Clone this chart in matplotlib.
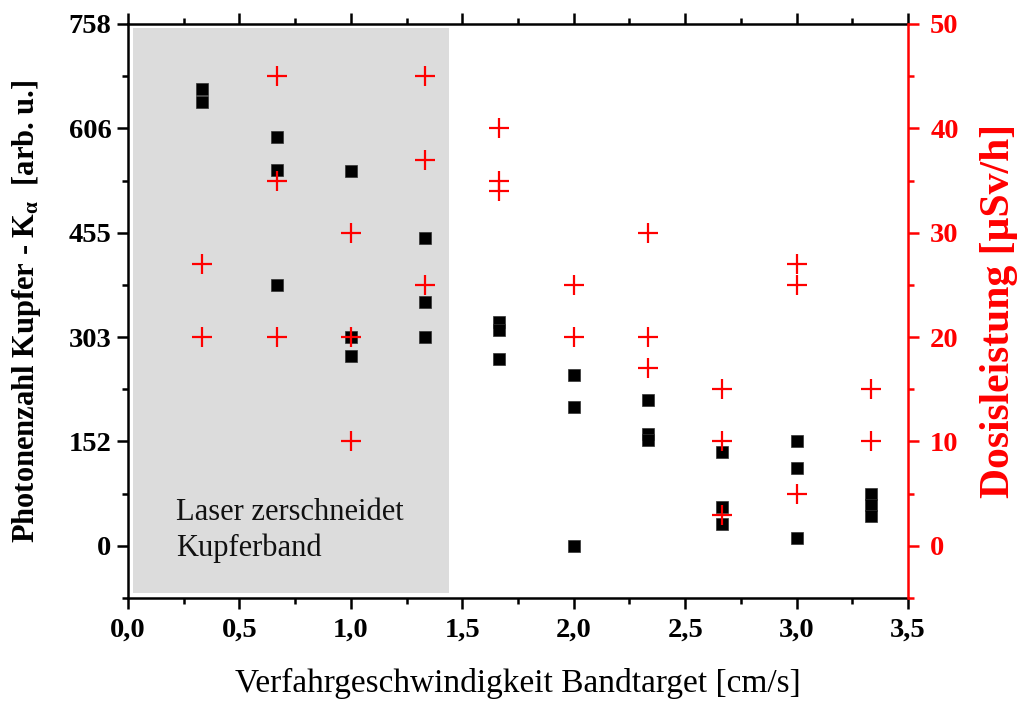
#!/usr/bin/env python3
"""Photonenzahl und Dosisleistung gegen Verfahrgeschwindigkeit"""
import matplotlib
matplotlib.use('Agg')
import matplotlib.pyplot as plt
from matplotlib.patches import Rectangle
from matplotlib.ticker import MultipleLocator, FuncFormatter

plt.rcParams['font.family'] = ['Liberation Serif', 'DejaVu Serif']
plt.rcParams['mathtext.fontset'] = 'custom'
plt.rcParams['mathtext.rm'] = 'Liberation Serif:bold'
plt.rcParams['mathtext.it'] = 'Liberation Serif:bold'
plt.rcParams['mathtext.bf'] = 'Liberation Serif:bold'

# Photonenzahl Cu-K_alpha (linke Achse)
photon_x = [1/3, 1/3,
            2/3, 2/3, 2/3,
            1.0, 1.0, 1.0,
            4/3, 4/3, 4/3,
            5/3, 5/3, 5/3,
            2.0, 2.0, 2.0,
            7/3, 7/3, 7/3,
            8/3, 8/3, 8/3,
            3.0, 3.0, 3.0,
            10/3, 10/3, 10/3]
photon_y = [663, 644,
            594, 546, 379,
            544, 304, 276,
            447, 354, 303,
            325, 313, 272,
            248, 202, 0,
            212, 163, 154,
            137, 57, 31,
            152, 113, 11,
            76, 60, 44]

# Dosisleistung in uSv/h (rechte Achse)
dose_x = [1/3, 1/3,
          2/3, 2/3, 2/3,
          1.0, 1.0, 1.0,
          4/3, 4/3, 4/3,
          5/3, 5/3, 5/3,
          2.0, 2.0,
          7/3, 7/3, 7/3,
          8/3, 8/3, 8/3,
          3.0, 3.0, 3.0,
          10/3, 10/3]
dose_y = [27, 20,
          45, 35, 20,
          30, 20, 10,
          45, 37, 25,
          40, 35, 34,
          25, 20,
          30, 20, 17,
          15, 10, 3,
          27, 25, 5,
          15, 10]

left_ticks = [0, 758 / 5, 2 * 758 / 5, 3 * 758 / 5, 4 * 758 / 5, 758]
left_labels = ['0', '152', '303', '455', '606', '758']

fig = plt.figure(figsize=(10.2, 7.01), dpi=100)
ax = fig.add_axes([0.1255, 0.1469, 0.7647, 0.8189])
ax2 = ax.twinx()

# grauer Bereich: Laser zerschneidet Kupferband
ax.add_patch(Rectangle((0.022, -68), 1.418, 820, facecolor='#dcdcdc',
                       edgecolor='none', zorder=0))
ax.text(0.215, 22, 'Laser zerschneidet\nKupferband', fontsize=22,
        ha='left', va='center', linespacing=1.3, color='#111111')

ax.plot(photon_x, photon_y, 's', color='black', markersize=8.5,
        markeredgecolor='#333333', markeredgewidth=0.5, zorder=3)
ax2.plot(dose_x, dose_y, '+', color='red', markersize=14,
         markeredgewidth=1.6, zorder=3)

ax.set_xlim(0, 3.5)
ax.set_ylim(-758 / 10, 758)
ax2.set_ylim(-5, 50)

ax.xaxis.set_major_locator(MultipleLocator(0.5))
ax.xaxis.set_minor_locator(MultipleLocator(0.25))
ax.xaxis.set_major_formatter(FuncFormatter(lambda v, p: f'{v:.1f}'.replace('.', ',')))
ax.set_yticks(left_ticks)
ax.set_yticklabels(left_labels)
ax.set_yticks([758 / 10 * k for k in range(-1, 11, 2)], minor=True)
ax2.yaxis.set_major_locator(MultipleLocator(10))
ax2.yaxis.set_minor_locator(MultipleLocator(5))

for sp in ax.spines.values():
    sp.set_linewidth(1.8)
ax.spines['right'].set_visible(False)
for name in ['left', 'top', 'bottom']:
    ax2.spines[name].set_visible(False)
ax2.spines['right'].set_color('red')
ax2.spines['right'].set_linewidth(1.8)

ax.tick_params(axis='both', which='major', direction='out', length=8,
               width=1.8, labelsize=20.5)
ax.tick_params(axis='y', which='major', pad=4)
ax.tick_params(axis='x', which='major', pad=6)
ax.tick_params(axis='both', which='minor', direction='out', length=4, width=1.8)
ax.tick_params(axis='x', which='both', top=True)
ax2.tick_params(axis='y', which='major', direction='out', length=8, width=1.8,
                colors='red', labelsize=20.5, pad=8)
ax2.tick_params(axis='y', which='minor', direction='out', length=4, width=1.8,
                colors='red')
for lab in ax.get_xticklabels() + ax.get_yticklabels() + ax2.get_yticklabels():
    lab.set_fontweight('bold')

ax.set_xlabel('Verfahrgeschwindigkeit Bandtarget [cm/s]', fontsize=24, labelpad=18)
ax.set_ylabel(r'Photonenzahl Kupfer - K$_\alpha$  [arb. u.]', fontsize=22,
              fontweight='bold', labelpad=18)
ax2.set_ylabel('Dosisleistung [µSv/h]', fontsize=30, fontweight='bold',
               color='red', labelpad=15)

plt.savefig('out.png', dpi=100)
plt.close()
